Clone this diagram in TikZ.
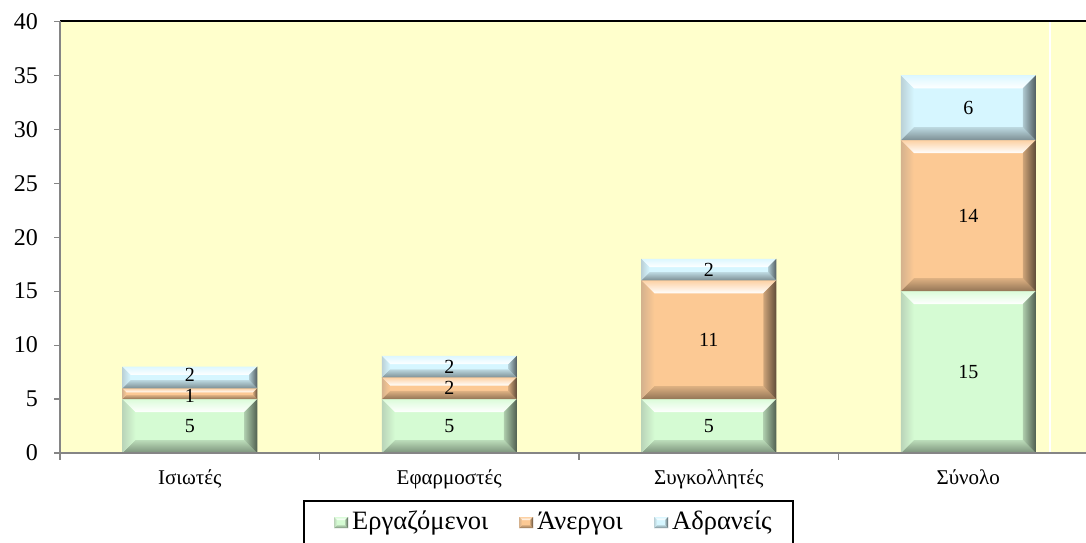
\documentclass[tikz,border=0pt]{standalone}
\usepackage{fontspec}
\setmainfont{Liberation Serif}
\usetikzlibrary{calc}
\definecolor{plotbg}{HTML}{FFFFCC}
\definecolor{cgreen}{HTML}{D5FBD3}
\definecolor{corange}{HTML}{FCC994}
\definecolor{cblue}{HTML}{D6F6FF}
\definecolor{axisgray}{HTML}{858585}

% beveled rectangle: x1, y1, x2, y2, colour, bevel
\newcommand{\bevseg}[6]{%
  \fill[#5] (#1,#2) rectangle (#3,#4);
  \shade[top color=#5!85!white, bottom color=white] (#1,#4) -- (#3,#4) -- (#3-#6,#4-#6) -- (#1+#6,#4-#6) -- cycle;
  \shade[top color=#5!88!black, bottom color=#5!58!black] (#1,#2) -- (#3,#2) -- (#3-#6,#2+#6) -- (#1+#6,#2+#6) -- cycle;
  \shade[left color=#5!68!gray, right color=#5] (#1,#2) -- (#1,#4) -- (#1+#6,#4-#6) -- (#1+#6,#2+#6) -- cycle;
  \shade[left color=#5!82!black, right color=#5!38!black] (#3,#2) -- (#3,#4) -- (#3-#6,#4-#6) -- (#3-#6,#2+#6) -- cycle;
}
% stacked segment: xa, xb, vlow, vhigh, colour, value, name, label shift
\newcommand{\stackseg}[8]{%
  \pgfmathsetmacro\sya{89+10.7875*#3}%
  \pgfmathsetmacro\syb{89+10.7875*#4}%
  \pgfmathsetmacro\sbv{min(13,0.38*(\syb-\sya))}%
  \bevseg{#1}{\sya}{#2}{\syb}{#5}{\sbv}%
  \node[vlab] (#7) at ({(#1+#2)/2},{(\sya+\syb)/2+#8}) {#6};%
}

\tikzset{
  vlab/.style={inner sep=0pt, font=\fontsize{20}{24}\selectfont},
  ylab/.style={anchor=east, inner sep=0pt, font=\fontsize{24}{28}\selectfont},
  catlab/.style={anchor=base, inner sep=0pt, font=\fontsize{21}{25}\selectfont},
  leglab/.style={anchor=base west, inner sep=0pt, font=\fontsize{26.5}{31}\selectfont},
  axisline/.style={draw=axisgray, line width=2pt},
  tickline/.style={draw=axisgray, line width=1.2pt},
}

\begin{document}
\begin{tikzpicture}[x=1pt,y=1pt]
\useasboundingbox (0,0) rectangle (1086,542);
\clip (0,0) rectangle (1086,542);
\fill[white] (0,0) rectangle (1086,542);

% plot area
\fill[plotbg] (60,89) rectangle (1086,520.5);
\draw[white, line width=1.2pt] (1050,89) -- (1050,520.5);
\draw[black, line width=2pt] (60,520.5) -- (1086,520.5);

% y axis
\foreach \v in {0,5,...,40}{
  \draw[tickline] (54,{89+10.7875*\v}) -- (60,{89+10.7875*\v});
  \node[ylab] (y\v) at (38,{89+10.7875*\v}) {\v};
}
\draw[axisline] (60,89) -- (60,520.5);

% bars
\foreach \i/\a/\b/\c/\so/\sb/\lab in {0/5/1/2/-2/2.5/Ισιωτές, 1/5/2/2/0/0/Εφαρμοστές, 2/5/11/2/0/0/Συγκολλητές, 3/15/14/6/0/0/Σύνολο}{
  \pgfmathsetmacro\xc{189.75+259.5*\i}
  \pgfmathsetmacro\xa{\xc-67.5}
  \pgfmathsetmacro\xb{\xc+67.5}
  \pgfmathsetmacro\va{\a}
  \pgfmathsetmacro\vb{\a+\b}
  \pgfmathsetmacro\vc{\a+\b+\c}
  \stackseg{\xa}{\xb}{0}{\va}{cgreen}{\a}{g\i}{0}
  \stackseg{\xa}{\xb}{\va}{\vb}{corange}{\b}{o\i}{\so}
  \stackseg{\xa}{\xb}{\vb}{\vc}{cblue}{\c}{b\i}{\sb}
  \node[catlab] (cat\i) at (\xc,58) {\lab};
}

% x axis
\draw[axisline] (60,89) -- (1086,89);
\foreach \t in {60,319.5,579,838.5}{
  \draw[tickline] (\t,89) -- (\t,82);
}

% legend
\draw[black, line width=2pt] (304,41) rectangle (793,-10);
\bevseg{334}{14}{348}{25}{cgreen}{3}
\node[leglab] (l1) at (352,13) {Εργαζόμενοι};
\bevseg{519}{14}{533}{25}{corange}{3}
\node[leglab] (l2) at (537,13) {Άνεργοι};
\bevseg{654}{14}{668}{25}{cblue}{3}
\node[leglab] (l3) at (672,13) {Αδρανείς};
\end{tikzpicture}
\end{document}
